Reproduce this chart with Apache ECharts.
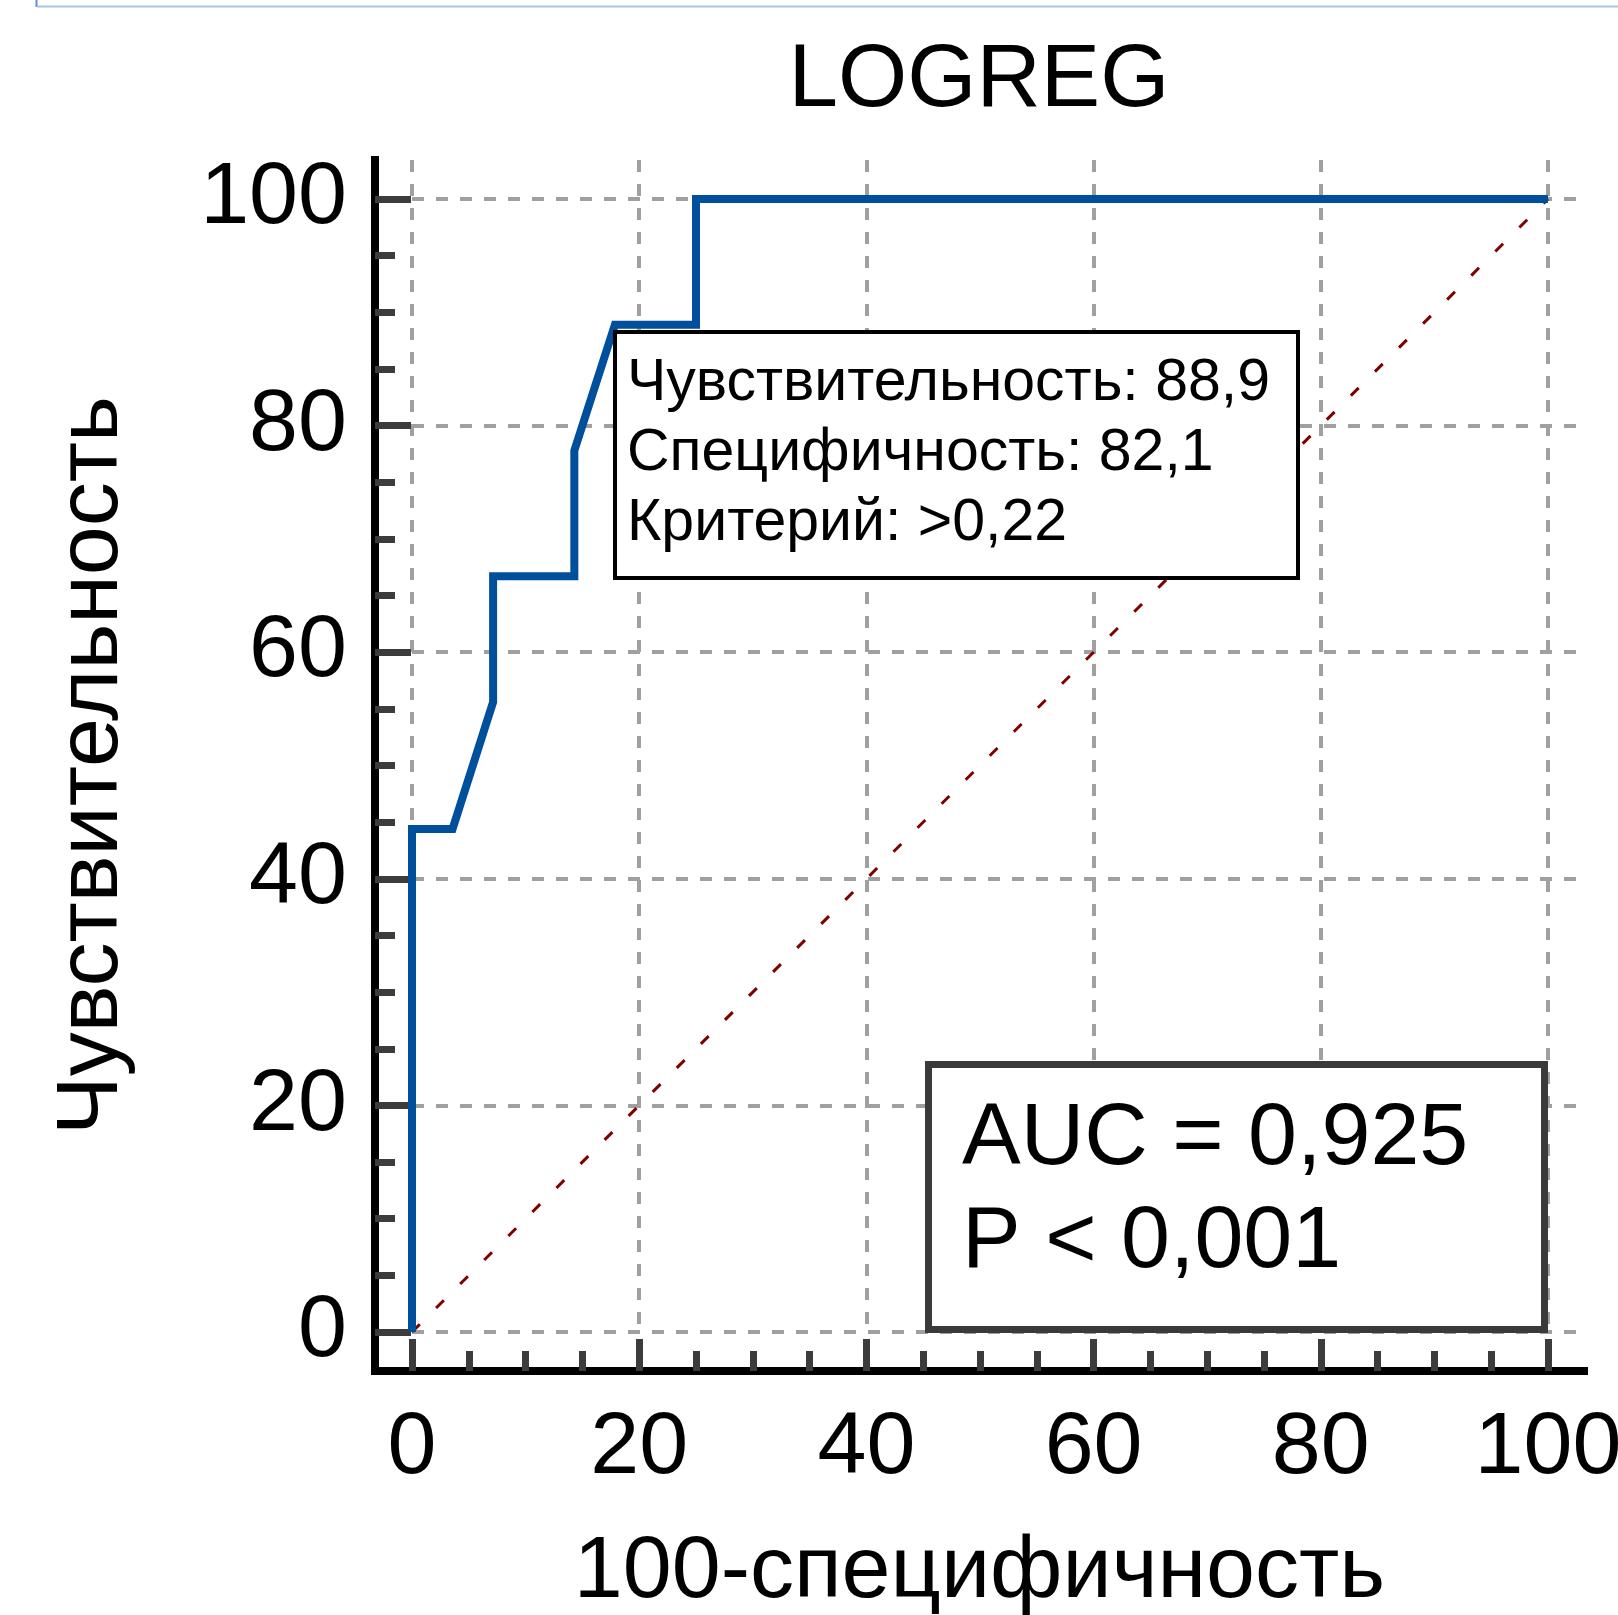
<!DOCTYPE html>
<html>
<head>
<meta charset="utf-8">
<script src="https://cdn.jsdelivr.net/npm/echarts@6/dist/echarts.min.js"></script>
<style>
  html, body { margin: 0; padding: 0; background: #fff; }
  #main { width: 1618px; height: 1615px; }
</style>
</head>
<body>
<div id="main"></div>
<script type="text/javascript">
// ROC curve points (100-specificity, sensitivity)
var rocX = [0, 0, 3.57, 7.14, 7.14, 14.29, 14.29, 17.86, 25, 25, 100];
var rocY = [0, 44.4, 44.4, 55.6, 66.7, 66.7, 77.8, 88.9, 88.9, 100, 100];
var diagX = [0, 100];
var diagY = [0, 100];

var majorTicks = [0, 20, 40, 60, 80, 100];
var minorTicks = [5, 10, 15, 25, 30, 35, 45, 50, 55, 65, 70, 75, 85, 90, 95];

var titleText = 'LOGREG';
var xName = '100-специфичность';
var yName = 'Чувствительность';
var cutoffText = ['Чувствительность: 88,9', 'Специфичность: 82,1', 'Критерий: >0,22'];
var aucText = ['AUC = 0,925', 'P < 0,001'];

// layout: plot area (0..100 maps to these pixels), and the frame the axis lines sit on
var pxX = 11.36, pxY = 11.33;
var plot = { left: 412, top: 160, right: 1587, bottom: 1332 };
var frame = { left: 375, top: 160, right: 1584, bottom: 1371 };

var font = '"Liberation Sans", Arial, sans-serif';
var tickColor = '#3c3c3c';
var gridStyle = { color: '#a0a0a0', width: 4, type: [12, 12] };

function pairs(xs, ys) {
  return xs.map(function (x, i) { return [x, ys[i]]; });
}

var plotXMax = (plot.right - plot.left) / pxX;
var plotYMax = (plot.bottom - plot.top) / pxY;
var frameXMin = (frame.left - plot.left) / pxX;
var frameXMax = (frame.right - plot.left) / pxX;
var frameYMin = (plot.bottom - frame.bottom) / pxY;
var frameYMax = (plot.bottom - frame.top) / pxY;

function tickAxis(dim, values, len, withLabel) {
  var ax = {
    gridIndex: 1, type: 'value',
    min: dim === 'x' ? frameXMin : frameYMin,
    max: dim === 'x' ? frameXMax : frameYMax,
    position: dim === 'x' ? 'bottom' : 'left',
    axisLine: { show: false, onZero: false },
    axisTick: { customValues: values, inside: true, length: len, lineStyle: { color: tickColor, width: 7 } },
    axisLabel: { show: false },
    splitLine: { show: false }
  };
  if (withLabel) {
    ax.axisLine = { show: true, onZero: false, lineStyle: { color: '#000', width: 8, cap: 'square' } };
    ax.axisLabel = {
      customValues: values, fontFamily: font, fontSize: 88, color: '#000',
      margin: dim === 'x' ? 34 : 28,
      padding: dim === 'x' ? 0 : [0, 0, 22, 0]
    };
  }
  return ax;
}

var xMajor = tickAxis('x', majorTicks, 32, true);
xMajor.name = xName;
xMajor.nameLocation = 'middle';
xMajor.nameGap = 158;
xMajor.nameTextStyle = { fontFamily: font, fontSize: 88, color: '#000' };

var yMajor = tickAxis('y', majorTicks, 36, true);
yMajor.name = yName;
yMajor.nameLocation = 'middle';
yMajor.nameGap = 238;
yMajor.nameRotate = 90;
yMajor.nameTextStyle = { fontFamily: font, fontSize: 88, color: '#000' };

var myChart = echarts.init(document.getElementById('main'));

var option = {
  animation: false,
  backgroundColor: '#fff',
  title: [
    {
      text: titleText,
      left: 979, top: 37, textAlign: 'center', padding: 0,
      textStyle: { fontFamily: font, fontSize: 89, fontWeight: 'normal', color: '#000' }
    },
    {
      text: cutoffText.join('\n'),
      left: 615, top: 332, padding: [17, 28, 19, 12],
      backgroundColor: '#fff', borderColor: '#000', borderWidth: 4,
      textStyle: { fontFamily: font, fontSize: 59, fontWeight: 'normal', color: '#000', lineHeight: 70 }
    },
    {
      text: aucText.join('\n'),
      left: 928, top: 1064, padding: [24, 76, 36, 34],
      backgroundColor: '#fff', borderColor: '#3a3a3a', borderWidth: 7,
      textStyle: { fontFamily: font, fontSize: 88, fontWeight: 'normal', color: '#000', lineHeight: 103 }
    }
  ],
  graphic: [
    { type: 'line', shape: { x1: 36.5, y1: 0, x2: 36.5, y2: 7 }, style: { stroke: '#6688d8', lineWidth: 2 } },
    { type: 'line', shape: { x1: 37, y1: 6.5, x2: 1618, y2: 6.5 }, style: { stroke: '#aac2ee', lineWidth: 2 } }
  ],
  grid: [
    {
      left: plot.left, top: plot.top,
      width: plot.right - plot.left, height: plot.bottom - plot.top,
      outerBoundsMode: 'none'
    },
    {
      left: frame.left, top: frame.top,
      width: frame.right - frame.left, height: frame.bottom - frame.top,
      outerBoundsMode: 'none'
    }
  ],
  xAxis: [
    {
      gridIndex: 0, type: 'value', min: 0, max: plotXMax, interval: 20,
      axisLine: { show: false }, axisTick: { show: false }, axisLabel: { show: false },
      splitLine: { show: true, showMaxLine: false, lineStyle: gridStyle }
    },
    xMajor,
    tickAxis('x', minorTicks, 20, false)
  ],
  yAxis: [
    {
      gridIndex: 0, type: 'value', min: 0, max: plotYMax, interval: 20,
      axisLine: { show: false }, axisTick: { show: false }, axisLabel: { show: false },
      splitLine: { show: true, showMaxLine: false, lineStyle: gridStyle }
    },
    yMajor,
    tickAxis('y', minorTicks, 20, false)
  ],
  series: [
    {
      name: 'diag', type: 'line', xAxisIndex: 0, yAxisIndex: 0,
      data: pairs(diagX, diagY), showSymbol: false, clip: false, z: 2,
      lineStyle: { color: '#800000', width: 3, type: [11, 23] }
    },
    {
      name: 'ROC', type: 'line', xAxisIndex: 0, yAxisIndex: 0,
      data: pairs(rocX, rocY), showSymbol: false, clip: false, z: 3,
      lineStyle: { color: '#004f9c', width: 8, join: 'miter' }
    }
  ]
};

myChart.setOption(option);
</script>
</body>
</html>
